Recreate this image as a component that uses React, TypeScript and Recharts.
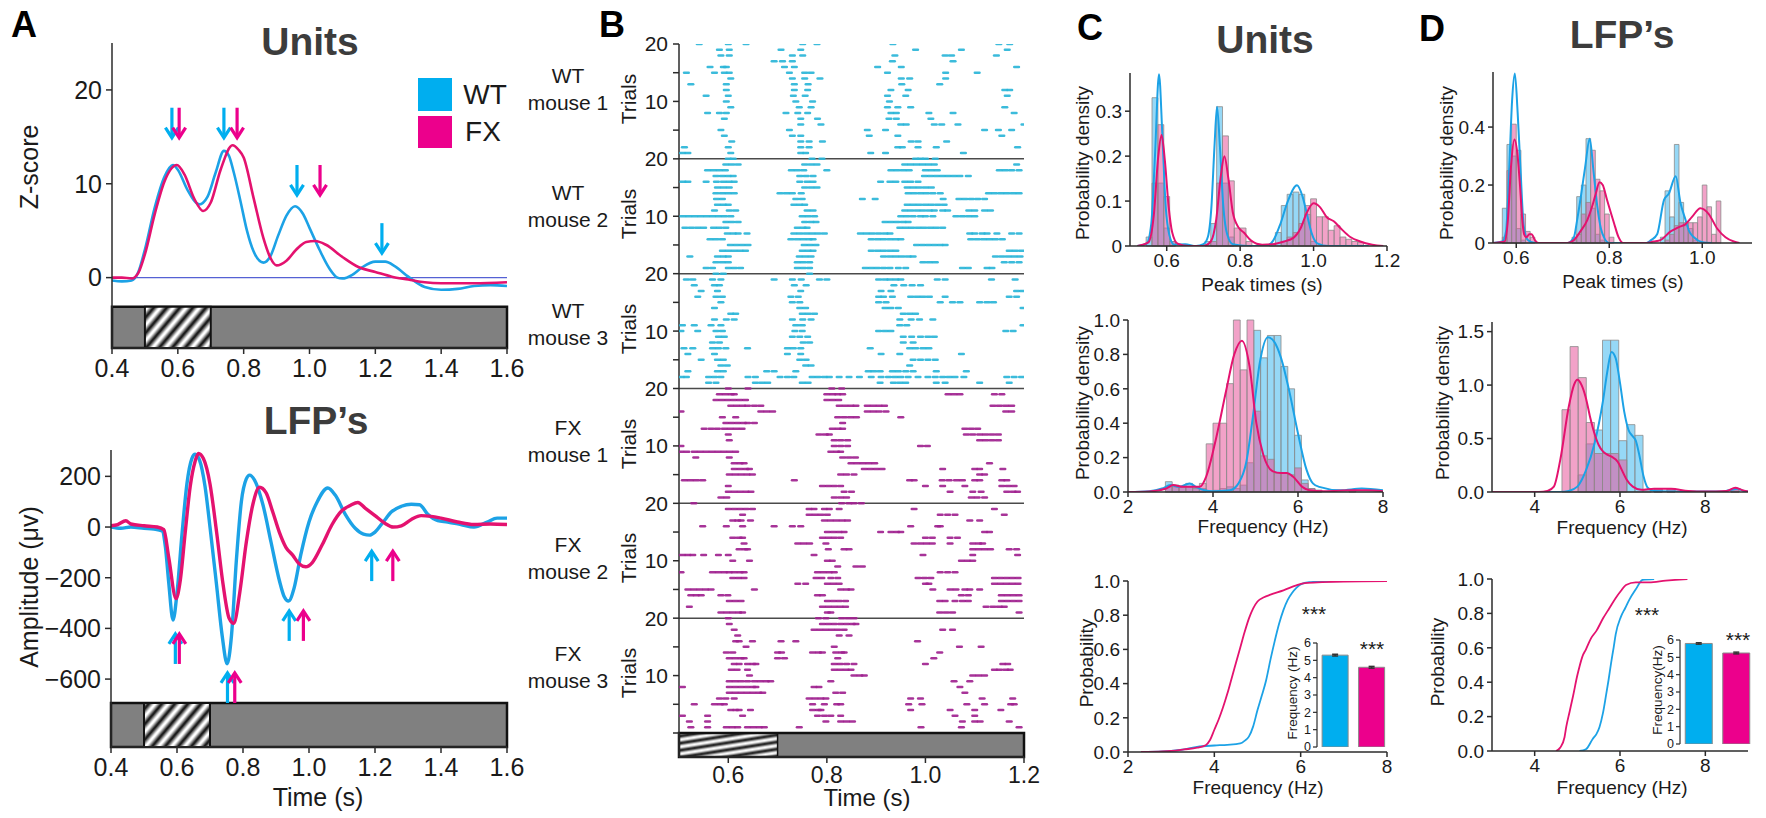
import React from "react";
import {
  ComposedChart,
  BarChart,
  Bar,
  Line,
  Scatter,
  XAxis,
  YAxis,
  ReferenceArea,
  ReferenceLine,
  ErrorBar,
  Cell,
} from "recharts";

const FONT = "'Liberation Sans', Arial, Helvetica, sans-serif";
const AX = "#2b2b2b";
const WT = "#1ca2e6";
const FX = "#e4126f";
const WT_BAR = "#00aeef";
const FX_BAR = "#ec008c";
const WT_HIST = "#3fb8ee";
const FX_HIST = "#e8559b";
const WT_DOT = "#2ab5d8";
const FX_DOT = "#a0228f";

// ---------- A: units z-score ----------
const unitsWt = [[0.4,-0.3],[0.43,-0.4],[0.46,-0.3],[0.48,0.6],[0.5,3],[0.53,7.5],[0.56,10.8],[0.585,12],[0.6,11.5],[0.63,9.3],[0.665,7.8],[0.69,8.6],[0.715,11.2],[0.74,13.5],[0.755,13],[0.77,11.2],[0.79,8.2],[0.81,5],[0.83,2.8],[0.86,1.6],[0.88,2.2],[0.905,4.5],[0.93,6.6],[0.956,7.6],[0.98,6.8],[1.0,5.3],[1.03,3],[1.06,1],[1.085,0],[1.1,-0.1],[1.13,0.3],[1.16,1.1],[1.2,1.7],[1.23,1.7],[1.26,1.2],[1.3,0.1],[1.35,-1],[1.4,-1.3],[1.45,-1.2],[1.5,-0.9],[1.55,-0.8],[1.6,-0.9]];
const unitsFx = [[0.4,0],[0.43,0],[0.46,-0.1],[0.48,0.5],[0.5,2.5],[0.53,6.8],[0.56,10.3],[0.597,12],[0.62,11],[0.65,8.4],[0.677,7.1],[0.7,8],[0.73,11.5],[0.766,14.1],[0.785,13.6],[0.8,12.8],[0.83,8.5],[0.86,4.2],[0.88,2.2],[0.9,1.3],[0.93,1.8],[0.96,3],[0.99,3.8],[1.017,3.9],[1.05,3.5],[1.1,2.2],[1.15,1.1],[1.2,0.6],[1.25,0.1],[1.3,-0.2],[1.35,-0.5],[1.4,-0.6],[1.5,-0.6],[1.6,-0.5]];
const unitsArrowWt = [[0.582,14.8],[0.74,14.8],[0.962,8.7],[1.22,2.5]];
const unitsArrowFx = [[0.604,14.8],[0.78,14.8],[1.032,8.7]];

// ---------- A: LFP ----------
const lfpWt = [[0.4,0],[0.43,-5],[0.46,0],[0.5,-5],[0.53,-8],[0.555,-15],[0.565,-80],[0.575,-220],[0.588,-367],[0.6,-260],[0.615,-30],[0.63,170],[0.645,270],[0.655,287],[0.668,265],[0.685,160],[0.7,0],[0.72,-230],[0.737,-430],[0.752,-540],[0.765,-430],[0.78,-130],[0.795,100],[0.81,190],[0.82,205],[0.835,185],[0.86,90],[0.885,-60],[0.91,-210],[0.925,-275],[0.938,-292],[0.955,-240],[0.975,-110],[1.0,20],[1.025,100],[1.057,154],[1.08,125],[1.11,50],[1.14,-5],[1.165,-28],[1.184,-32],[1.2,-20],[1.225,20],[1.25,60],[1.28,82],[1.31,90],[1.335,88],[1.36,50],[1.39,25],[1.42,20],[1.46,10],[1.5,0],[1.54,20],[1.57,35],[1.6,35]];
const lfpFx = [[0.4,5],[0.42,10],[0.445,25],[0.46,12],[0.5,5],[0.54,0],[0.56,-10],[0.575,-120],[0.597,-282],[0.61,-210],[0.625,-20],[0.64,160],[0.655,260],[0.665,290],[0.68,270],[0.7,170],[0.72,-20],[0.74,-230],[0.758,-360],[0.772,-380],[0.79,-260],[0.81,-60],[0.83,90],[0.85,157],[0.87,135],[0.89,60],[0.91,-20],[0.93,-80],[0.95,-110],[0.97,-145],[0.99,-157],[1.01,-140],[1.04,-70],[1.07,10],[1.1,65],[1.125,85],[1.148,97],[1.17,75],[1.2,45],[1.23,15],[1.255,0],[1.28,5],[1.31,30],[1.34,45],[1.37,42],[1.4,35],[1.45,20],[1.5,10],[1.55,12],[1.6,10]];
const lfpArrowWt = [[0.595,-418],[0.753,-572],[0.94,-327],[1.19,-91]];
const lfpArrowFx = [[0.607,-418],[0.775,-572],[0.983,-327],[1.254,-91]];

// ---------- B: rasters, spike times per trial (trial 1 first) ----------
const wtMouse1 = [
  [0.507,0.518,0.605,0.747,0.757,0.889,0.919,1.077],
  [0.511,0.6,0.747,0.764,0.944,0.953,0.985,1.022,1.187],
  [0.607,0.747,0.764,0.791,0.971,0.985,1.043],
  [0.592,0.73,0.747,0.886,0.944,1.155],
  [0.585,0.724,0.882,0.919,1.12,1.148,1.175],
  [0.747,0.788,0.95,0.961,1.018,1.033,1.066,1.2],
  [0.592,0.747,0.781,0.926,0.941,1.011],
  [0.558,0.582,0.596,0.717,0.741,0.761,0.93,0.941,1.007,1.056,1.18],
  [0.605,0.744,0.768,0.923,0.944,0.97,1.161],
  [0.596,0.737,0.771,0.927],
  [0.555,0.6,0.732,0.756,0.923,0.96,1.166],
  [0.596,0.734,0.761,0.93,0.965,1.161,1.171],
  [0.524,0.596,0.734,0.762,0.952,1.029],
  [0.605,0.73,0.755,0.786,0.951,0.968,1.041],
  [0.515,0.572,0.592,0.602,0.724,0.755,0.768,0.923,1.041,1.105],
  [0.563,0.59,0.596,0.714,0.734,0.903,0.951,1.185],
  [0.693,0.71,0.73,0.933,1.056],
  [0.585,0.602,0.73,0.751,0.938,1.04,1.053,1.144],
  [0.582,0.602,0.707,0.747,0.98,1.073,1.166],
  [0.541,0.6,0.636,0.751,0.78,0.934,1.149,1.171],
];
const wtMouse2 = [
  [0.555,0.568,0.6,0.612,0.625,0.74,0.752,0.765,0.878,0.89,0.902,0.915,0.928,0.945,0.96,1.075,1.087,1.125,1.135],
  [0.575,0.588,0.6,0.74,0.752,0.765,0.995,1.008,1.02,1.16,1.175,1.19],
  [0.522,0.578,0.59,0.6,0.744,0.756,0.768,0.915,0.928,0.94,0.952,0.965,0.975,1.142,1.155,1.168,1.18,1.192],
  [0.588,0.6,0.612,0.624,0.635,0.75,0.762,0.772,0.89,0.903,0.915,0.928,0.94,1.17,1.182,1.195],
  [0.604,0.616,0.628,0.64,0.754,0.766,0.778,0.982,0.994,1.006,1.018,1.03,1.04],
  [0.563,0.575,0.588,0.727,0.74,0.752,0.764,0.772,0.89,0.903,0.915,0.928,0.94,0.95,1.092,1.105,1.118,1.13,1.142,1.156],
  [0.598,0.61,0.62,0.638,0.733,0.745,0.758,0.77,0.782,0.795,0.868,0.88,0.892,0.905,0.918,0.928,1.09,1.1,1.115,1.125,1.145,1.175,1.19],
  [0.512,0.525,0.538,0.55,0.57,0.582,0.595,0.74,0.752,0.76,0.948,0.96,0.972,0.985,0.997,1.01,1.022,1.035],
  [0.595,0.607,0.62,0.755,0.768,0.778,0.918,0.93,0.942,0.955,0.965],
  [0.508,0.52,0.532,0.544,0.556,0.568,0.58,0.592,0.605,0.75,0.762,0.775,0.95,0.962,0.975,0.99,1.0,1.015,1.062,1.075,1.088,1.1],
  [0.572,0.602,0.615,0.76,0.772,0.958,0.97,0.983,0.995,1.008,1.018,1.035,1.045,1.088,1.1,1.12,1.132],
  [0.578,0.59,0.6,0.733,0.745,0.755,0.963,0.975,0.987,1.0,1.012,1.025,1.038],
  [0.576,0.588,0.737,0.75,0.872,0.898,1.036,1.068,1.08,1.093,1.106,1.12],
  [0.575,0.588,0.6,0.612,0.705,0.718,0.73,0.748,0.965,0.977,0.99,1.002,1.015,1.03,1.128,1.14,1.153,1.165,1.178,1.19],
  [0.578,0.59,0.602,0.755,0.768,0.78,0.963,0.975,0.987,1.0,1.012],
  [0.508,0.518,0.555,0.576,0.59,0.602,0.612,0.745,0.76,0.772,0.909,0.928,0.94,0.958,0.97,0.985],
  [0.575,0.588,0.6,0.61,0.745,0.758,0.772,0.998,1.01,1.022,1.034,1.046,1.058,1.07,1.087],
  [0.558,0.57,0.582,0.594,0.728,0.74,0.753,0.8,0.93,0.942,0.955,0.967,1.0,1.012,1.024,1.15,1.162,1.175,1.19],
  [0.595,0.607,0.62,0.755,0.768,0.78,0.958,0.97,0.982,0.994,1.006,1.018,1.185],
  [0.6,0.61,0.77,0.79,0.98,0.99,1.0,1.02],
];
const wtMouse3 = [
  [0.56,0.575,0.655,0.668,0.68,0.75,0.762,0.908,0.935,0.948,0.96,1.022,1.04,1.11,1.17],
  [0.505,0.515,0.56,0.572,0.585,0.64,0.655,0.705,0.72,0.733,0.77,0.782,0.795,0.805,0.825,0.845,0.866,0.89,0.91,0.925,0.938,0.95,0.965,0.985,1.005,1.02,1.035,1.048,1.06,1.078,1.165,1.18,1.195],
  [0.518,0.578,0.59,0.678,0.693,0.737,0.884,0.895,0.908,0.933,0.945,0.96,0.975,1.022,1.083],
  [0.585,0.598,0.757,0.768,0.968],
  [0.545,0.578,0.59,0.745,0.758,0.975,0.99,1.005,1.02],
  [0.518,0.572,0.72,0.747,0.91,0.948,1.073],
  [0.51,0.528,0.568,0.58,0.595,0.639,0.72,0.732,0.747,0.888,0.968,0.98,0.995,1.007],
  [0.568,0.582,0.752,0.765,0.955,0.975],
  [0.58,0.592,0.73,0.745,0.761,0.955,0.972,0.99,1.005,1.018],
  [0.504,0.538,0.575,0.588,0.735,0.75,0.905,0.918,0.93,1.163,1.178],
  [0.507,0.531,0.565,0.585,0.737,0.75,0.948,0.962,1.198],
  [0.572,0.596,0.612,0.73,0.751,0.768,0.948,0.971,0.988,1.015],
  [0.605,0.615,0.75,0.762,0.775,0.955,0.968,0.98],
  [0.572,0.745,0.757,0.918,0.93,0.945,1.198],
  [0.585,0.73,0.745,0.905,0.92,1.03,1.055,1.07,1.11,1.125,1.138],
  [0.538,0.575,0.588,0.727,0.742,0.905,0.915,0.933,0.97,0.983,0.995,1.008,1.04,1.17,1.185],
  [0.545,0.578,0.747,0.91,0.93,1.185,1.197],
  [0.531,0.572,0.582,0.734,0.758,0.936,0.956,0.973,0.99],
  [0.515,0.528,0.568,0.585,0.693,0.73,0.748,0.785,0.8,0.905,0.918,0.928,0.94,0.95,1.024,1.04,1.134,1.182],
  [0.575,0.59,0.765],
];
const fxMouse1 = [
  [0.585,0.597,0.815,0.828,0.84,1.093,1.105,1.12],
  [0.6,0.612,0.624,0.636,0.646,0.835,0.85,1.05,1.096,1.113,1.165,1.178,1.187],
  [0.6,0.791,0.803,0.815,0.828,1.0,1.035,1.08,1.155,1.168,1.18],
  [0.511,0.523,0.535,0.548,0.734,0.968,0.977,1.034,1.048,1.063,1.075,1.1,1.11,1.155,1.165],
  [0.602,0.614,0.626,0.638,0.649,0.828,0.84,0.855,1.11,1.12],
  [0.612,0.624,0.636,0.643,0.876,0.888,0.9,0.912,1.035,1.1,1.11,1.157],
  [0.612,0.624,0.632,0.849,0.861,0.873,0.885,0.897,1.13],
  [0.534,0.602,0.832,0.845,0.858],
  [0.504,0.516,0.531,0.543,0.555,0.567,0.579,0.591,0.603,0.615,0.808,0.82,0.828],
  [0.504,0.815,0.828,0.842,0.99,1.004],
  [0.602,0.815,0.828,0.842,1.11,1.122,1.135,1.148],
  [0.6,0.784,0.797,0.805,1.083,1.096,1.11,1.122,1.135,1.148],
  [0.551,0.565,0.578,0.592,0.604,0.616,0.628,0.811,0.823,0.832,1.08,1.093,1.106],
  [0.595,0.607,0.619,0.631,0.639,0.653,0.832],
  [0.588,0.615,0.822,0.835,0.848,0.86,0.95],
  [0.504,0.666,0.678,0.69,0.882,0.894,0.906,0.92,1.163,1.175],
  [0.605,0.617,0.629,0.639,0.653,0.666,0.825,0.837,0.849,0.859,0.882,0.894,0.906,0.917,1.137,1.15,1.163,1.175],
  [0.575,0.587,0.599,0.611,0.623,0.635,0.8,0.812,0.824],
  [0.582,0.594,0.606,0.612,0.8,0.812,0.822,0.832,1.046,1.058,1.07,1.14,1.155],
  [0.6,0.64,0.81,0.83],
];
const fxMouse2 = [
  [0.585,0.597,0.609,0.621,0.629,0.801,0.808,1.029,1.042,1.055,1.19],
  [0.521,0.791,0.803,0.815,0.827,0.838,1.123,1.137,1.15,1.16],
  [0.602,0.614,0.626,0.801,0.813,0.825,0.838,1.029,1.04,1.06,1.075,1.087,1.154,1.166,1.178,1.19],
  [0.524,0.535,0.545,0.585,0.599,0.781,0.791,1.073,1.087,1.154,1.166,1.178,1.19],
  [0.518,0.53,0.542,0.554,0.565,0.653,0.828,0.84,0.849,1.015,1.05,1.062,1.08,1.09,1.11],
  [0.741,0.757,0.801,0.813,0.825,1.0,1.007,1.14,1.152,1.164,1.176,1.188],
  [0.609,0.621,0.632,0.778,0.79,0.808,0.822,0.985,0.998,1.011,1.14,1.152,1.164,1.176,1.188],
  [0.504,0.568,0.58,0.592,0.602,0.612,0.624,0.632,0.781,0.793,0.805,0.815,1.03,1.045,1.06],
  [0.822,0.859,0.872],
  [0.609,0.643,0.801,0.811,1.073,1.085,1.096],
  [0.507,0.518,0.528,0.55,0.58,0.6,0.774,0.995,1.096,1.187],
  [0.622,0.634,0.639,0.803,0.835,0.845,1.096,1.108,1.12,1.132,1.17,1.185],
  [0.632,0.741,0.753,0.765,0.798,0.977,0.99,1.002,1.014,1.05,1.096,1.108,1.116],
  [0.609,0.622,0.629,0.791,0.803,0.815,0.828,1.0,1.014,1.05,1.065],
  [0.801,0.813,0.825,0.835,0.909,0.93,0.942,0.95,1.12,1.13],
  [0.548,0.596,0.629,0.693,0.73,0.747,0.97,1.025,1.03],
  [0.609,0.619,0.626,0.645,0.795,0.807,0.819,0.831,0.842,1.09,1.11],
  [0.629,0.764,0.776,0.788,0.801,1.03,1.045,1.06,1.16],
  [0.6,0.612,0.624,0.636,0.649,0.764,0.774,0.795,0.805,0.825,0.977,1.14],
  [0.53,0.83,0.845,0.855,0.87],
];
const fxMouse3 = [
  [0.524,0.558,0.596,0.608,0.619,0.639,0.651,0.663,0.673,0.744,0.991,1.073,1.19],
  [0.521,0.558,0.798,0.828,0.84,0.852,1.075,1.1,1.111,1.17],
  [0.507,0.558,0.629,0.781,0.795,0.808,0.828,1.06,1.1],
  [0.605,0.615,0.622,0.645,0.771,0.783,0.788,0.97,1.05,1.1,1.153],
  [0.531,0.572,0.584,0.592,0.771,0.795,0.82,0.828,0.966,0.993,1.084,1.12,1.173,1.18],
  [0.582,0.595,0.612,0.764,0.776,0.788,0.798,0.97,0.99,1.115,1.177],
  [0.602,0.614,0.626,0.638,0.65,0.662,0.67,0.818,0.832,1.08],
  [0.507,0.602,0.614,0.626,0.638,0.65,0.656,0.774,0.784,1.07],
  [0.602,0.614,0.626,0.639,0.653,0.665,0.677,0.686,0.808,1.058,1.09],
  [0.643,0.855,0.867,0.876,1.096,1.108,1.12],
  [0.606,0.618,0.639,0.815,0.827,0.839,0.849,1.14,1.15,1.163,1.172],
  [0.612,0.622,0.639,0.65,0.656,0.815,0.827,0.84,0.855,1.0,1.157,1.167],
  [0.602,0.614,0.626,0.632,0.7,0.714,0.822,1.017],
  [0.596,0.609,0.7,0.708,0.771,0.783,0.791,0.818,0.83,0.835,1.029],
  [0.636,0.815,1.069,1.113],
  [0.615,0.622,0.649,0.707,0.737,0.984],
  [0.619,0.825,0.845],
  [0.612,0.774,0.786,0.798,0.81,0.822,0.835,1.035,1.055],
  [0.602,0.791,0.803,0.815,0.828,0.84,0.852,0.859],
  [0.6,0.783,0.798,0.83,0.843,0.855],
];
const mouseNames = ["WT\nmouse 1", "WT\nmouse 2", "WT\nmouse 3", "FX\nmouse 1", "FX\nmouse 2", "FX\nmouse 3"];

// ---------- C: units peak times ----------
const peakBinW = 0.016;
const peakBinsC = [0.544,0.56,0.576,0.592,0.608,0.704,0.72,0.736,0.752,0.768,0.784,0.8,0.816,0.88,0.896,0.912,0.928,0.944,0.96,0.976,0.992,1.008,1.024,1.04,1.056,1.072,1.088,1.104,1.12];
const peakHistCWt = [0.02,0.33,0.14,0.04,0.01,0.01,0.05,0.31,0.14,0.02,0,0,0,0.005,0.03,0.09,0.115,0.12,0.115,0.07,0.01,0,0,0,0,0,0,0,0];
const peakHistCFx = [0,0.14,0.27,0.11,0.01,0,0.01,0.14,0.245,0.145,0.04,0.04,0.01,0,0,0.01,0.02,0.03,0.05,0.09,0.105,0.065,0.065,0.035,0.045,0.02,0.015,0.01,0.008];
const peakKdeCWt = [[0.52,0],[0.545,0.005],[0.558,0.05],[0.568,0.2],[0.579,0.382],[0.588,0.25],[0.597,0.09],[0.607,0.025],[0.62,0.003],[0.65,0.004],[0.68,0],[0.7,0.004],[0.712,0.02],[0.722,0.09],[0.73,0.22],[0.737,0.31],[0.745,0.22],[0.754,0.09],[0.765,0.025],[0.78,0.004],[0.82,0],[0.87,0],[0.89,0.012],[0.91,0.05],[0.93,0.1],[0.955,0.135],[0.97,0.11],[0.985,0.06],[0.995,0.028],[1.01,0.006],[1.04,0],[1.15,0]];
const peakKdeCFx = [[0.52,0],[0.55,0.008],[0.565,0.07],[0.577,0.2],[0.586,0.247],[0.595,0.19],[0.605,0.09],[0.615,0.03],[0.63,0.005],[0.66,0],[0.7,0],[0.72,0.01],[0.735,0.06],[0.748,0.16],[0.757,0.2],[0.768,0.15],[0.78,0.075],[0.795,0.042],[0.81,0.03],[0.83,0.012],[0.86,0.003],[0.89,0.004],[0.92,0.01],[0.945,0.018],[0.965,0.04],[0.982,0.075],[1.0,0.095],[1.018,0.086],[1.036,0.064],[1.055,0.055],[1.073,0.04],[1.1,0.02],[1.127,0.01],[1.16,0.003],[1.19,0]];

// ---------- C: units frequency ----------
const freqBinWC = 0.16;
const freqBinsC = [2.88,3.04,3.2,3.36,3.52,3.68,3.84,4.0,4.16,4.32,4.48,4.64,4.8,4.96,5.12,5.28,5.44,5.6,5.76,5.92,6.08,6.24,6.4,7.2];
const freqHistCWt = [0.06,0.03,0.03,0.05,0.03,0.02,0,0.01,0.02,0.03,0.02,0.04,0.17,0.94,0.78,0.91,0.91,0.73,0.6,0.33,0.07,0.02,0.01,0];
const freqHistCFx = [0.03,0.04,0.03,0.03,0.02,0.05,0.28,0.4,0.4,0.63,1.0,0.71,1.0,0.47,0.21,0.19,0.11,0.11,0.1,0.14,0.05,0.02,0.01,0.01];
const freqKdeCWt = [[2,0],[2.5,0.005],[2.8,0.02],[3.0,0.04],[3.2,0.03],[3.45,0.05],[3.6,0.03],[3.8,0.01],[4.0,0.005],[4.4,0.01],[4.6,0.05],[4.78,0.17],[4.94,0.44],[5.1,0.75],[5.29,0.9],[5.45,0.87],[5.6,0.78],[5.8,0.58],[6.0,0.34],[6.2,0.13],[6.35,0.05],[6.5,0.03],[7.0,0.01],[7.5,0.02],[8,0.01]];
const freqKdeCFx = [[2,0],[2.5,0.003],[2.9,0.02],[3.06,0.04],[3.3,0.03],[3.5,0.03],[3.69,0.03],[3.84,0.09],[4.08,0.32],[4.31,0.59],[4.5,0.8],[4.68,0.88],[4.86,0.73],[5.02,0.4],[5.18,0.22],[5.41,0.12],[5.6,0.11],[5.73,0.11],[5.88,0.09],[6.1,0.03],[6.27,0.01],[6.6,0.005],[7.3,0.01],[7.6,0.01],[8,0.005]];

// ---------- C: cumulative ----------
const cdfCWt = [[2.3,0],[2.8,0.003],[3.0,0.006],[3.3,0.015],[3.6,0.03],[4.0,0.038],[4.3,0.042],[4.6,0.05],[4.7,0.065],[4.8,0.09],[4.9,0.15],[5.0,0.245],[5.1,0.33],[5.2,0.42],[5.3,0.54],[5.4,0.65],[5.5,0.75],[5.6,0.83],[5.7,0.89],[5.8,0.93],[5.9,0.96],[6.0,0.98],[6.2,0.993],[6.6,0.998],[7.0,1],[8,1]];
const cdfCFx = [[2.3,0],[2.8,0.003],[3.0,0.006],[3.3,0.015],[3.6,0.025],[3.8,0.04],[3.9,0.07],[4.0,0.13],[4.1,0.19],[4.2,0.26],[4.3,0.34],[4.4,0.43],[4.5,0.52],[4.6,0.61],[4.7,0.7],[4.8,0.78],[4.9,0.84],[5.0,0.88],[5.15,0.905],[5.3,0.92],[5.6,0.945],[5.9,0.975],[6.1,0.988],[6.5,0.993],[7.0,0.997],[8,1]];
const meanFreqC = [5.3, 4.6];
const semFreqC = [0.05, 0.05];

// ---------- D: LFP peak times ----------
const peakBinWD = 0.01;
const peakBinsD = [0.57,0.58,0.59,0.6,0.61,0.62,0.63,0.72,0.73,0.74,0.75,0.76,0.77,0.78,0.79,0.8,0.91,0.92,0.93,0.94,0.95,0.96,0.97,0.98,0.99,1.0,1.01,1.02,1.03];
const peakHistDWt = [0.12,0.34,0.3,0.05,0.01,0,0,0.02,0.16,0.2,0.36,0.12,0.03,0.01,0,0,0.02,0.18,0.09,0.34,0.14,0.07,0.05,0.01,0,0,0,0,0];
const peakHistDFx = [0.02,0.25,0.41,0.32,0.1,0.04,0.02,0.01,0.03,0.1,0.14,0.32,0.22,0.18,0.1,0.02,0,0.01,0.03,0.06,0.07,0.06,0.07,0.07,0.09,0.2,0.125,0.03,0.145];
const peakKdeDWt = [[0.55,0],[0.57,0.005],[0.578,0.04],[0.585,0.26],[0.591,0.49],[0.597,0.585],[0.603,0.45],[0.609,0.26],[0.616,0.06],[0.625,0.01],[0.64,0],[0.71,0],[0.724,0.02],[0.731,0.08],[0.738,0.15],[0.748,0.26],[0.758,0.36],[0.766,0.25],[0.774,0.13],[0.782,0.05],[0.79,0.015],[0.8,0],[0.88,0],[0.89,0.01],[0.903,0.03],[0.918,0.15],[0.928,0.17],[0.943,0.23],[0.953,0.14],[0.964,0.08],[0.972,0.04],[0.982,0.02],[1.0,0.003],[1.02,0]];
const peakKdeDFx = [[0.55,0],[0.575,0.005],[0.582,0.08],[0.589,0.27],[0.596,0.357],[0.603,0.3],[0.608,0.2],[0.613,0.08],[0.617,0.03],[0.622,0.02],[0.628,0.03],[0.633,0.03],[0.64,0.01],[0.648,0],[0.71,0],[0.724,0.01],[0.738,0.04],[0.753,0.08],[0.764,0.13],[0.771,0.17],[0.779,0.21],[0.786,0.2],[0.795,0.15],[0.81,0.07],[0.82,0.02],[0.83,0],[0.88,0],[0.895,0.005],[0.91,0.01],[0.932,0.04],[0.95,0.055],[0.964,0.065],[0.978,0.09],[0.996,0.12],[1.014,0.1],[1.032,0.05],[1.05,0.02],[1.068,0.005],[1.08,0]];

// ---------- D: LFP frequency ----------
const freqBinWD = 0.19;
const freqBinsD = [4.64,4.83,5.02,5.21,5.4,5.59,5.78,5.97,6.16,6.35,6.54,6.8,7.1,8.6];
const freqHistDWt = [0,0,0.16,0.45,0.58,1.42,1.42,0.48,0.63,0.53,0.02,0.02,0.02,0.02];
const freqHistDFx = [0.77,1.36,1.07,0.65,0.36,0.36,0.36,0.3,0,0,0,0.03,0.03,0.03];
const freqKdeDWt = [[3,0],[4.6,0],[4.8,0.01],[5.0,0.05],[5.2,0.2],[5.4,0.45],[5.6,0.85],[5.7,1.12],[5.8,1.31],[5.9,1.25],[6.0,1.02],[6.1,0.75],[6.2,0.58],[6.3,0.52],[6.37,0.48],[6.45,0.35],[6.55,0.15],[6.65,0.04],[6.8,0.01],[7.5,0.005],[8.4,0.005],[8.6,0.02],[8.75,0.03],[8.9,0.01],[9,0.005]];
const freqKdeDFx = [[3,0],[4.1,0],[4.3,0.01],[4.45,0.05],[4.6,0.3],[4.8,0.8],[4.92,1.0],[5.0,1.05],[5.1,1.0],[5.2,0.88],[5.3,0.7],[5.4,0.55],[5.5,0.44],[5.6,0.38],[5.7,0.35],[5.8,0.33],[5.95,0.28],[6.05,0.2],[6.15,0.12],[6.3,0.05],[6.5,0.02],[6.8,0.03],[7.2,0.03],[7.6,0.01],[8.0,0.005],[8.5,0.01],[8.7,0.04],[8.85,0.02],[9,0.005]];

// ---------- D: cumulative ----------
const cdfDWt = [[5.05,0],[5.2,0.01],[5.36,0.07],[5.45,0.1],[5.52,0.14],[5.6,0.22],[5.67,0.32],[5.73,0.41],[5.79,0.51],[5.85,0.6],[5.9,0.68],[6.02,0.78],[6.12,0.83],[6.22,0.88],[6.37,0.94],[6.53,0.995],[6.8,1.0]];
const cdfDFx = [[4.5,0],[4.6,0.02],[4.7,0.08],[4.74,0.14],[4.82,0.23],[4.9,0.32],[5.0,0.44],[5.05,0.49],[5.12,0.55],[5.2,0.59],[5.32,0.655],[5.45,0.7],[5.6,0.77],[5.75,0.83],[5.9,0.89],[6.02,0.93],[6.14,0.965],[6.37,0.98],[6.68,0.98],[7.07,0.99],[7.3,0.995],[7.58,1.0]];
const meanFreqD = [5.8, 5.25];
const semFreqD = [0.04, 0.05];
const groups = ["WT", "FX"];

// ---------- helpers ----------
type Box = { l: number; t: number; r: number; b: number };
const pts = (a: number[][]) => a.map(([x, y]) => ({ x, y }));
const f1 = (v: number) => v.toFixed(1);
const minus = (v: number) => (v < 0 ? "\u2212" + Math.abs(v) : String(v));

const axisStyle = (font: number, size = 6, margin = 4, w = 1.5) => ({
  axisLine: { stroke: AX, strokeWidth: w },
  tickLine: { stroke: AX, strokeWidth: w },
  tickSize: size,
  tickMargin: margin,
  interval: 0 as const,
  tick: { fontSize: font, fill: "#1a1a1a", fontFamily: FONT },
});

function Plot({ box, yW, xH, mt = 14, mr = 22, children }: { box: Box; yW: number; xH: number; mt?: number; mr?: number; children: React.ReactNode }) {
  return (
    <div style={{ position: "absolute", left: box.l - yW, top: box.t - mt }}>
      <ComposedChart width={box.r - box.l + yW + mr} height={box.b - box.t + mt + xH} margin={{ top: mt, right: mr, left: 0, bottom: 0 }}>
        {children}
      </ComposedChart>
    </div>
  );
}

function Txt({ x, y, size, children, weight = 400, rotate = 0, color = "#1a1a1a", lh = 1.15 }: any) {
  return (
    <div
      style={{
        position: "absolute",
        left: x,
        top: y,
        transform: `translate(-50%, -50%) rotate(${rotate}deg)`,
        fontSize: size,
        fontWeight: weight,
        color,
        fontFamily: FONT,
        whiteSpace: "pre",
        lineHeight: lh,
        textAlign: "center",
      }}
    >
      {children}
    </div>
  );
}

const downArrow = (color: string) => (p: any) => (
  <g>
    <line x1={p.cx} y1={p.cy - 31} x2={p.cx} y2={p.cy - 2} stroke={color} strokeWidth={3.2} />
    <polyline points={`${p.cx - 6.5},${p.cy - 11} ${p.cx},${p.cy - 1} ${p.cx + 6.5},${p.cy - 11}`} fill="none" stroke={color} strokeWidth={3.2} />
  </g>
);
const upArrow = (color: string) => (p: any) => (
  <g>
    <line x1={p.cx} y1={p.cy + 31} x2={p.cx} y2={p.cy + 2} stroke={color} strokeWidth={3.2} />
    <polyline points={`${p.cx - 6.5},${p.cy + 11} ${p.cx},${p.cy + 1} ${p.cx + 6.5},${p.cy + 11}`} fill="none" stroke={color} strokeWidth={3.2} />
  </g>
);
const dash = (color: string) => (p: any) => (
  <rect x={p.cx - 3.6} y={p.cy - 1.25} width={7.2} height={2.5} rx={1.25} fill={color} fillOpacity={0.92} />
);

const histAreas = (starts: number[], w: number, vals: number[], fill: string, key: string) =>
  starts.map((s, i) =>
    vals[i] > 0 ? (
      <ReferenceArea key={key + i} x1={s} x2={s + w} y1={0} y2={vals[i]} fill={fill} fillOpacity={0.55} stroke="#8c8c8c" strokeWidth={0.8} ifOverflow="visible" />
    ) : null
  );

const rasterPoints = (mice: number[][][], first: number) =>
  mice.flatMap((trials, m) =>
    trials.flatMap((times, i) => times.map((x) => ({ x, y: (5 - (first + m)) * 20 + i + 1 })))
  );

function Grating({ id, angle, period, horizontal }: { id: string; angle: number; period: number; horizontal?: boolean }) {
  return (
    <defs>
      <linearGradient id={id + "g"} x1="0" y1="0" x2={horizontal ? "0" : "1"} y2={horizontal ? "1" : "0"}>
        <stop offset="0" stopColor="#000" />
        <stop offset="0.42" stopColor="#fff" />
        <stop offset="0.58" stopColor="#fff" />
        <stop offset="1" stopColor="#000" />
      </linearGradient>
      <pattern id={id} width={period} height={period} patternUnits="userSpaceOnUse" patternTransform={`rotate(${angle})`}>
        <rect width={period} height={period} fill={`url(#${id}g)`} />
      </pattern>
    </defs>
  );
}

function Inset({ box, values, errs }: { box: Box; values: number[]; errs: number[] }) {
  const yW = 22;
  const mt = 8;
  const mb = 12;
  const data = groups.map((name, i) => ({ name, v: values[i], e: errs[i] }));
  return (
    <div style={{ position: "absolute", left: box.l - yW, top: box.t - mt }}>
      <BarChart width={box.r - box.l + yW + 2} height={box.b - box.t + mt + mb} data={data} margin={{ top: mt, right: 2, left: 0, bottom: mb }} barCategoryGap="14%">
        <XAxis dataKey="name" hide />
        <YAxis type="number" domain={[0, 6]} ticks={[0, 1, 2, 3, 4, 5, 6]} width={yW} allowDataOverflow {...axisStyle(12.5, 4, 2, 1.2)} />
        <Bar dataKey="v" isAnimationActive={false} stroke="#8a8a8a" strokeWidth={1}>
          {data.map((d, i) => (
            <Cell key={d.name} fill={i === 0 ? WT_BAR : FX_BAR} />
          ))}
          <ErrorBar dataKey="e" width={3} stroke="#333" strokeWidth={1.5} />
        </Bar>
      </BarChart>
    </div>
  );
}

const boxA1 = { l: 112, t: 43, r: 507, b: 348 };
const boxA2 = { l: 111, t: 450, r: 507, b: 747 };
const boxB = { l: 679, t: 44, r: 1024, b: 757 };
const boxC1 = { l: 1130, t: 73, r: 1387, b: 246 };
const boxC2 = { l: 1128, t: 320, r: 1383, b: 492 };
const boxC3 = { l: 1128, t: 581, r: 1387, b: 752 };
const boxCi = { l: 1317, t: 643, r: 1390, b: 747 };
const boxD1 = { l: 1493, t: 72, r: 1752, b: 243 };
const boxD2 = { l: 1492, t: 322, r: 1748, b: 492 };
const boxD3 = { l: 1492, t: 579, r: 1748, b: 751 };
const boxDi = { l: 1680, t: 640, r: 1755, b: 744 };

const timeTicksA = [0.4, 0.6, 0.8, 1.0, 1.2, 1.4, 1.6];
const trialTicks = [0, 5, 10, 15, 20, 25, 30, 35, 40, 45, 50, 55, 60, 65, 70, 75, 80, 85, 90, 95, 100, 105, 110, 115, 120];

export default function App() {
  const wtRaster = rasterPoints([wtMouse1, wtMouse2, wtMouse3], 0);
  const fxRaster = rasterPoints([fxMouse1, fxMouse2, fxMouse3], 3);
  const panelMid = [101.5, 216.5, 331.5, 446.5, 561, 675.5];
  const labelMid = [88.5, 205.7, 323.5, 441, 557.5, 667];

  return (
    <div style={{ position: "absolute", left: 0, top: 0, width: 1766, height: 818, background: "#fff", overflow: "hidden" }}>
      {/* ---- A: units ---- */}
      <Plot box={boxA1} yW={90} xH={45}>
        <Grating id="gratA1" angle={40} period={10} />
        <XAxis type="number" dataKey="x" domain={[0.4, 1.6]} ticks={timeTicksA} tickFormatter={f1} allowDataOverflow height={45} {...axisStyle(25, 6, 5)} />
        <YAxis type="number" domain={[-7.5, 25]} ticks={[0, 10, 20]} allowDataOverflow width={90} {...axisStyle(25, 6, 4)} />
        <ReferenceLine y={0} stroke="#5561d4" strokeWidth={1.2} />
        <ReferenceArea x1={0.4} x2={1.6} y1={-7.5} y2={-3.1} fill="#808080" fillOpacity={1} stroke="#111" strokeWidth={2.5} />
        <ReferenceArea x1={0.5} x2={0.7} y1={-7.5} y2={-3.1} fill="url(#gratA1)" fillOpacity={1} stroke="#111" strokeWidth={2} />
        <Line data={pts(unitsWt)} dataKey="y" type="monotone" dot={false} stroke={WT} strokeWidth={2.6} isAnimationActive={false} />
        <Line data={pts(unitsFx)} dataKey="y" type="monotone" dot={false} stroke={FX} strokeWidth={2.6} isAnimationActive={false} />
        <Scatter data={pts(unitsArrowWt)} dataKey="y" shape={downArrow(WT_BAR)} isAnimationActive={false} />
        <Scatter data={pts(unitsArrowFx)} dataKey="y" shape={downArrow(FX_BAR)} isAnimationActive={false} />
      </Plot>

      {/* ---- A: LFP ---- */}
      <Plot box={boxA2} yW={90} xH={45}>
        <Grating id="gratA2" angle={40} period={10} />
        <XAxis type="number" dataKey="x" domain={[0.4, 1.6]} ticks={timeTicksA} tickFormatter={f1} allowDataOverflow height={45} {...axisStyle(25, 6, 5)} />
        <YAxis type="number" domain={[-868, 304]} ticks={[-600, -400, -200, 0, 200]} tickFormatter={minus} allowDataOverflow width={90} {...axisStyle(25, 6, 4)} />
        <ReferenceArea x1={0.4} x2={1.6} y1={-868} y2={-694} fill="#808080" fillOpacity={1} stroke="#111" strokeWidth={2.5} />
        <ReferenceArea x1={0.5} x2={0.7} y1={-868} y2={-694} fill="url(#gratA2)" fillOpacity={1} stroke="#111" strokeWidth={2} />
        <Line data={pts(lfpWt)} dataKey="y" type="monotone" dot={false} stroke={WT} strokeWidth={3.4} isAnimationActive={false} />
        <Line data={pts(lfpFx)} dataKey="y" type="monotone" dot={false} stroke={FX} strokeWidth={3.4} isAnimationActive={false} />
        <Scatter data={pts(lfpArrowWt)} dataKey="y" shape={upArrow(WT_BAR)} isAnimationActive={false} />
        <Scatter data={pts(lfpArrowFx)} dataKey="y" shape={upArrow(FX_BAR)} isAnimationActive={false} />
      </Plot>

      {/* ---- B: raster ---- */}
      <Plot box={boxB} yW={60} xH={45}>
        <Grating id="gratB" angle={-9} period={7} horizontal />
        <XAxis type="number" dataKey="x" domain={[0.5, 1.2]} ticks={[0.6, 0.8, 1.0, 1.2]} tickFormatter={f1} allowDataOverflow height={45} {...axisStyle(23, 6, 4)} />
        <YAxis
          type="number"
          domain={[-4.18, 120]}
          ticks={trialTicks}
          tickFormatter={(v: number) => (v > 0 && v % 20 === 0 ? "20" : v % 20 === 10 ? "10" : "")}
          allowDataOverflow
          width={60}
          {...axisStyle(21, 6, 5)}
        />
        {[20, 40, 60, 80, 100].map((y) => (
          <ReferenceLine key={y} y={y} stroke="#4a4a4a" strokeWidth={1.5} />
        ))}
        <ReferenceArea x1={0.7} x2={1.2} y1={-4.18} y2={0} fill="#808080" fillOpacity={1} stroke="none" />
        <ReferenceArea x1={0.5} x2={0.7} y1={-4.18} y2={0} fill="url(#gratB)" fillOpacity={1} stroke="#111" strokeWidth={1.5} />
        <ReferenceArea x1={0.5} x2={1.2} y1={-4.18} y2={0} fill="none" fillOpacity={0} stroke="#111" strokeWidth={2.5} />
        <Scatter data={wtRaster} dataKey="y" shape={dash(WT_DOT)} isAnimationActive={false} />
        <Scatter data={fxRaster} dataKey="y" shape={dash(FX_DOT)} isAnimationActive={false} />
      </Plot>

      {/* ---- C: peak times ---- */}
      <Plot box={boxC1} yW={50} xH={40}>
        <XAxis type="number" dataKey="x" domain={[0.5, 1.2]} ticks={[0.6, 0.8, 1.0, 1.2]} tickFormatter={f1} allowDataOverflow height={40} {...axisStyle(19, 5, 3)} />
        <YAxis type="number" domain={[0, 0.385]} ticks={[0, 0.1, 0.2, 0.3]} tickFormatter={(v: number) => (v === 0 ? "0" : f1(v))} allowDataOverflow width={50} {...axisStyle(19, 5, 3)} />
        {histAreas(peakBinsC, peakBinW, peakHistCWt, WT_HIST, "cw")}
        {histAreas(peakBinsC, peakBinW, peakHistCFx, FX_HIST, "cf")}
        <Line data={pts(peakKdeCWt)} dataKey="y" type="monotone" dot={false} stroke={WT} strokeWidth={2} isAnimationActive={false} />
        <Line data={pts(peakKdeCFx)} dataKey="y" type="monotone" dot={false} stroke={FX} strokeWidth={2} isAnimationActive={false} />
      </Plot>

      {/* ---- C: frequency ---- */}
      <Plot box={boxC2} yW={50} xH={40}>
        <XAxis type="number" dataKey="x" domain={[2, 8]} ticks={[2, 4, 6, 8]} allowDataOverflow height={40} {...axisStyle(19, 5, 3)} />
        <YAxis type="number" domain={[0, 1]} ticks={[0, 0.2, 0.4, 0.6, 0.8, 1.0]} tickFormatter={f1} allowDataOverflow width={50} {...axisStyle(19, 5, 3)} />
        {histAreas(freqBinsC, freqBinWC, freqHistCWt, WT_HIST, "fw")}
        {histAreas(freqBinsC, freqBinWC, freqHistCFx, FX_HIST, "ff")}
        <Line data={pts(freqKdeCWt)} dataKey="y" type="monotone" dot={false} stroke={WT} strokeWidth={2} isAnimationActive={false} />
        <Line data={pts(freqKdeCFx)} dataKey="y" type="monotone" dot={false} stroke={FX} strokeWidth={2} isAnimationActive={false} />
      </Plot>

      {/* ---- C: cumulative ---- */}
      <Plot box={boxC3} yW={50} xH={40}>
        <XAxis type="number" dataKey="x" domain={[2, 8]} ticks={[2, 4, 6, 8]} allowDataOverflow height={40} {...axisStyle(19, 5, 3)} />
        <YAxis type="number" domain={[0, 1]} ticks={[0, 0.2, 0.4, 0.6, 0.8, 1.0]} tickFormatter={f1} allowDataOverflow width={50} {...axisStyle(19, 5, 3)} />
        <Line data={pts(cdfCWt)} dataKey="y" type="monotone" dot={false} stroke={WT} strokeWidth={1.8} isAnimationActive={false} />
        <Line data={pts(cdfCFx)} dataKey="y" type="monotone" dot={false} stroke={FX} strokeWidth={1.8} isAnimationActive={false} />
      </Plot>
      <Inset box={boxCi} values={meanFreqC} errs={semFreqC} />

      {/* ---- D: peak times ---- */}
      <Plot box={boxD1} yW={50} xH={40}>
        <XAxis type="number" dataKey="x" domain={[0.55, 1.107]} ticks={[0.6, 0.8, 1.0]} tickFormatter={f1} allowDataOverflow height={40} {...axisStyle(19, 5, 3)} />
        <YAxis type="number" domain={[0, 0.59]} ticks={[0, 0.2, 0.4]} tickFormatter={(v: number) => (v === 0 ? "0" : f1(v))} allowDataOverflow width={50} {...axisStyle(19, 5, 3)} />
        {histAreas(peakBinsD, peakBinWD, peakHistDWt, WT_HIST, "dw")}
        {histAreas(peakBinsD, peakBinWD, peakHistDFx, FX_HIST, "df")}
        <Line data={pts(peakKdeDWt)} dataKey="y" type="monotone" dot={false} stroke={WT} strokeWidth={2} isAnimationActive={false} />
        <Line data={pts(peakKdeDFx)} dataKey="y" type="monotone" dot={false} stroke={FX} strokeWidth={2} isAnimationActive={false} />
      </Plot>

      {/* ---- D: frequency ---- */}
      <Plot box={boxD2} yW={50} xH={40}>
        <XAxis type="number" dataKey="x" domain={[3, 9]} ticks={[4, 6, 8]} allowDataOverflow height={40} {...axisStyle(19, 5, 3)} />
        <YAxis type="number" domain={[0, 1.59]} ticks={[0, 0.5, 1.0, 1.5]} tickFormatter={f1} allowDataOverflow width={50} {...axisStyle(19, 5, 3)} />
        {histAreas(freqBinsD, freqBinWD, freqHistDWt, WT_HIST, "gw")}
        {histAreas(freqBinsD, freqBinWD, freqHistDFx, FX_HIST, "gf")}
        <Line data={pts(freqKdeDWt)} dataKey="y" type="monotone" dot={false} stroke={WT} strokeWidth={2} isAnimationActive={false} />
        <Line data={pts(freqKdeDFx)} dataKey="y" type="monotone" dot={false} stroke={FX} strokeWidth={2} isAnimationActive={false} />
      </Plot>

      {/* ---- D: cumulative ---- */}
      <Plot box={boxD3} yW={50} xH={40}>
        <XAxis type="number" dataKey="x" domain={[3, 9]} ticks={[4, 6, 8]} allowDataOverflow height={40} {...axisStyle(19, 5, 3)} />
        <YAxis type="number" domain={[0, 1]} ticks={[0, 0.2, 0.4, 0.6, 0.8, 1.0]} tickFormatter={f1} allowDataOverflow width={50} {...axisStyle(19, 5, 3)} />
        <Line data={pts(cdfDWt)} dataKey="y" type="monotone" dot={false} stroke={WT} strokeWidth={1.8} isAnimationActive={false} />
        <Line data={pts(cdfDFx)} dataKey="y" type="monotone" dot={false} stroke={FX} strokeWidth={1.8} isAnimationActive={false} />
      </Plot>
      <Inset box={boxDi} values={meanFreqD} errs={semFreqD} />

      {/* ---- texts ---- */}
      <Txt x={24} y={25} size={36} weight={700} color="#000">A</Txt>
      <Txt x={612} y={25} size={36} weight={700} color="#000">B</Txt>
      <Txt x={1090} y={28} size={36} weight={700} color="#000">C</Txt>
      <Txt x={1432} y={29} size={36} weight={700} color="#000">D</Txt>

      <Txt x={310} y={42} size={39} weight={700} color="#3c3c3c">Units</Txt>
      <Txt x={316} y={421} size={39} weight={700} color="#3c3c3c">LFP’s</Txt>
      <Txt x={1265} y={40} size={39} weight={700} color="#3c3c3c">Units</Txt>
      <Txt x={1622} y={35} size={39} weight={700} color="#3c3c3c">LFP’s</Txt>

      <Txt x={29} y={167} size={25} rotate={-90}>Z-score</Txt>
      <Txt x={29} y={587} size={25} rotate={-90}>Amplitude (μv)</Txt>
      <Txt x={318} y={797} size={25}>Time (s)</Txt>

      <div style={{ position: "absolute", left: 418, top: 78, width: 34, height: 33, background: WT_BAR }} />
      <div style={{ position: "absolute", left: 418, top: 116, width: 34, height: 32, background: FX_BAR }} />
      <Txt x={485} y={95} size={28}>WT</Txt>
      <Txt x={483} y={132} size={28}>FX</Txt>

      {mouseNames.map((n, i) => (
        <Txt key={n} x={568} y={labelMid[i]} size={21} lh={1.29}>{n}</Txt>
      ))}
      {panelMid.map((y, i) => (
        <Txt key={"tr" + i} x={629} y={y - 3} size={21} rotate={-90}>Trials</Txt>
      ))}
      <Txt x={867} y={798} size={24}>Time (s)</Txt>

      <Txt x={1083} y={163} size={19} rotate={-90}>Probability density</Txt>
      <Txt x={1262} y={285} size={19}>Peak times (s)</Txt>
      <Txt x={1083} y={403} size={19} rotate={-90}>Probability density</Txt>
      <Txt x={1263} y={527} size={19}>Frequency (Hz)</Txt>
      <Txt x={1087} y={663} size={19} rotate={-90}>Probability</Txt>
      <Txt x={1258} y={788} size={19}>Frequency (Hz)</Txt>
      <Txt x={1314} y={614} size={21}>***</Txt>
      <Txt x={1372} y={649} size={21}>***</Txt>
      <Txt x={1293} y={693} size={13.5} rotate={-90}>Frequency (Hz)</Txt>

      <Txt x={1447} y={163} size={19} rotate={-90}>Probability density</Txt>
      <Txt x={1623} y={282} size={19}>Peak times (s)</Txt>
      <Txt x={1443} y={403} size={19} rotate={-90}>Probability density</Txt>
      <Txt x={1622} y={528} size={19}>Frequency (Hz)</Txt>
      <Txt x={1438} y={662} size={19} rotate={-90}>Probability</Txt>
      <Txt x={1622} y={788} size={19}>Frequency (Hz)</Txt>
      <Txt x={1647} y={615} size={21}>***</Txt>
      <Txt x={1738} y={640} size={21}>***</Txt>
      <Txt x={1658} y={690} size={13.5} rotate={-90}>Frequency(Hz)</Txt>
    </div>
  );
}
